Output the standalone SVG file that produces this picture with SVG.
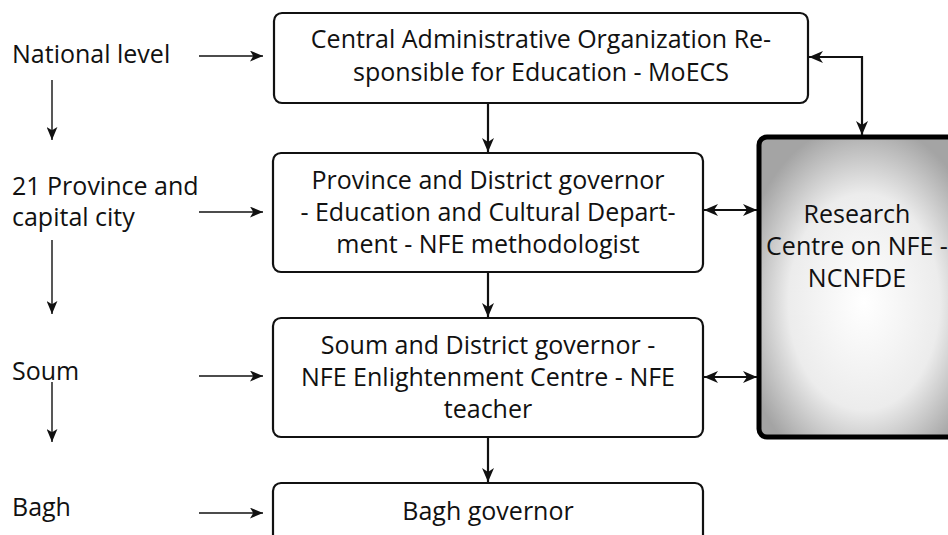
<svg xmlns="http://www.w3.org/2000/svg" width="948" height="535" viewBox="0 0 948 535">
  <style>
    text { font-family: "Open Sans", "Noto Sans", "DejaVu Sans", sans-serif; font-size: 25px; fill: #111; }
    .c { text-anchor: middle; }
    .box { fill: #fff; stroke: #111; stroke-width: 2.2; }
    .rc { fill: url(#rcFill); stroke: #000; stroke-width: 5; }
    .thin { fill: none; stroke: #111; stroke-width: 1.4; marker-end: url(#smallHead); }
    .link { fill: none; stroke: #111; stroke-width: 2.2; }
  </style>
  <defs>
    <radialGradient id="rcFill" cx="0.5" cy="0.55" r="0.6">
      <stop offset="0" stop-color="#ffffff"/>
      <stop offset="0.6" stop-color="#ececec"/>
      <stop offset="1" stop-color="#a4a4a4"/>
    </radialGradient>
    <marker id="smallHead" viewBox="0 0 12 10" refX="12" refY="5" markerWidth="13" markerHeight="11" markerUnits="userSpaceOnUse" orient="auto">
      <path d="M0,0 L12,5 L0,10 L3,5 Z" fill="#111"/>
    </marker>
    <marker id="head" viewBox="0 0 14 12" refX="14" refY="6" markerWidth="14" markerHeight="12" markerUnits="userSpaceOnUse" orient="auto">
      <path d="M0,0 L14,6 L0,12 L4,6 Z" fill="#111"/>
    </marker>
    <marker id="tail" viewBox="0 0 14 12" refX="0" refY="6" markerWidth="14" markerHeight="12" markerUnits="userSpaceOnUse" orient="auto">
      <path d="M14,0 L0,6 L14,12 L10,6 Z" fill="#111"/>
    </marker>
  </defs>

  <!-- level labels -->
  <g id="levels">
    <text x="12" y="63">National level</text>
    <text x="12" y="195">21 Province and</text>
    <text x="12" y="226">capital city</text>
    <text x="12" y="380">Soum</text>
    <text x="12" y="516">Bagh</text>
  </g>

  <!-- organisation boxes -->
  <g id="moecs">
    <rect class="box" x="274" y="13" width="534" height="90" rx="8"/>
    <text class="c" x="541" y="48">Central Administrative Organization Re-</text>
    <text class="c" x="541" y="81">sponsible for Education - MoECS</text>
  </g>
  <g id="province">
    <rect class="box" x="273" y="153" width="430" height="119" rx="8"/>
    <text class="c" x="488" y="189">Province and District governor</text>
    <text class="c" x="488" y="221">- Education and Cultural Depart-</text>
    <text class="c" x="488" y="253">ment - NFE methodologist</text>
  </g>
  <g id="soum">
    <rect class="box" x="273" y="318" width="430" height="119" rx="8"/>
    <text class="c" x="488" y="354">Soum and District governor -</text>
    <text class="c" x="488" y="386">NFE Enlightenment Centre - NFE</text>
    <text class="c" x="488" y="418">teacher</text>
  </g>
  <g id="bagh">
    <rect class="box" x="273" y="483" width="430" height="80" rx="8"/>
    <text class="c" x="488" y="520">Bagh governor</text>
  </g>
  <g id="research">
    <rect class="rc" x="759" y="137" width="210" height="300" rx="8"/>
    <text class="c" x="857" y="223">Research</text>
    <text class="c" x="857" y="255">Centre on NFE -</text>
    <text class="c" x="857" y="287">NCNFDE</text>
  </g>

  <!-- connectors -->
  <g id="connectors">
    <path class="thin" d="M199,56 H263"/>
    <path class="thin" d="M199,212 H263"/>
    <path class="thin" d="M199,376 H263"/>
    <path class="thin" d="M199,513 H263"/>
    <path class="thin" d="M52,80 V140"/>
    <path class="thin" d="M52,240 V314"/>
    <path class="thin" d="M52,382 V442"/>

    <path class="link" d="M488,103 V152" marker-end="url(#head)"/>
    <path class="link" d="M488,272 V317" marker-end="url(#head)"/>
    <path class="link" d="M488,437 V482" marker-end="url(#head)"/>

    <path class="link" d="M809,57 H862 V135" marker-start="url(#tail)" marker-end="url(#head)"/>
    <path class="link" d="M704,210 H757" marker-start="url(#tail)" marker-end="url(#head)"/>
    <path class="link" d="M704,377 H757" marker-start="url(#tail)" marker-end="url(#head)"/>
  </g>
</svg>
